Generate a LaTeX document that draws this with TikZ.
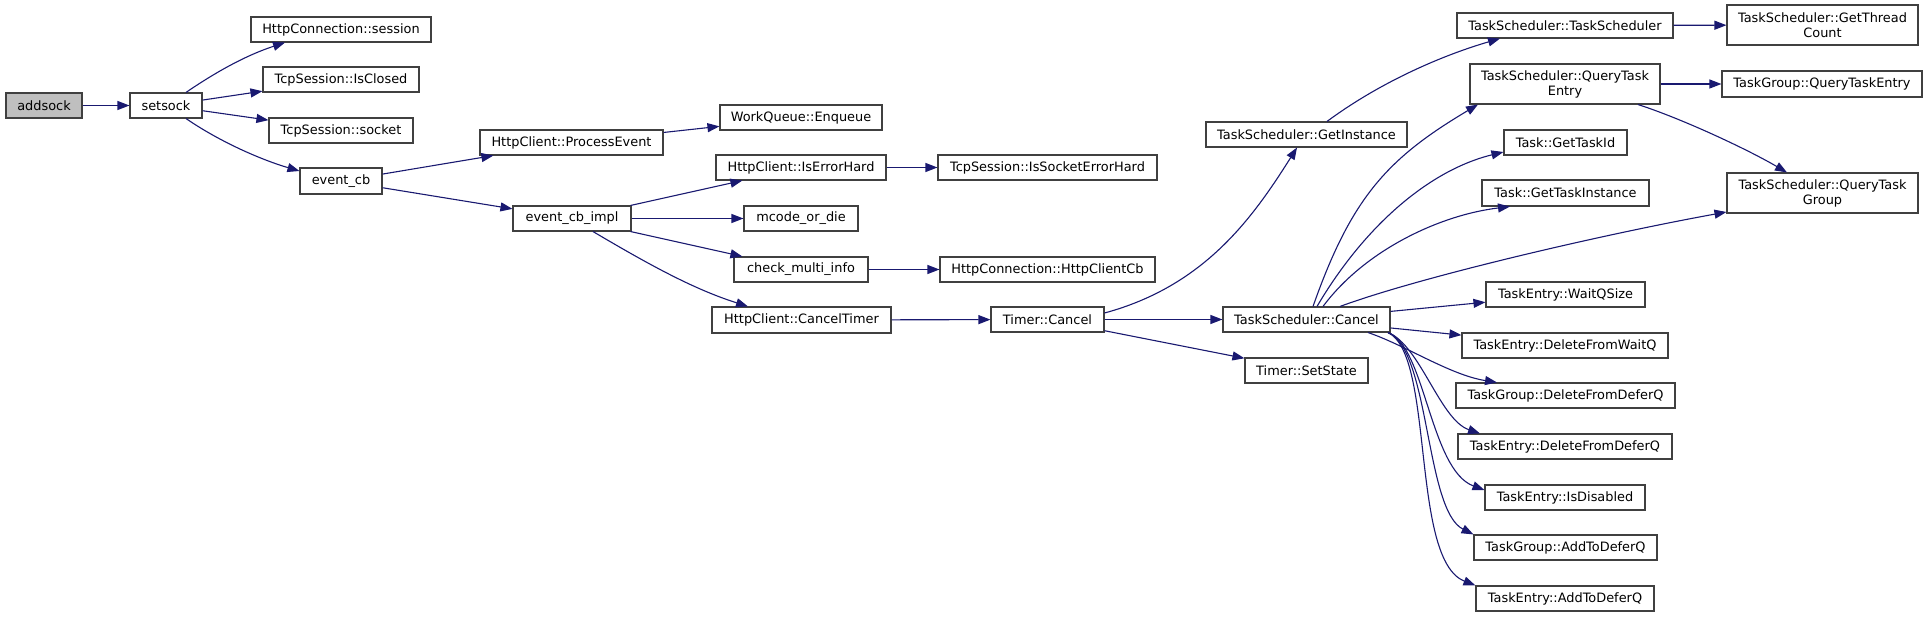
\documentclass[tikz,border=0pt]{standalone}
\usepackage{fontspec}
\setmainfont{DejaVu Sans}
\usetikzlibrary{arrows.meta}
\definecolor{edgeblue}{HTML}{191970}
\definecolor{boxline}{HTML}{404040}
\definecolor{grayfill}{HTML}{BFBFBF}
\newcommand\mybox[7][]{\node[box,#1,minimum width={(#4-#2)*1bp},minimum height={(#5-#3)*1bp}] (#6) at ({(#2+#4)/2},{(#3+#5)/2}) {#7};}
\tikzset{
  box/.style={draw=boxline,line width=1.1bp,fill=white,inner sep=0pt,align=center,
    font=\fontsize{12.9bp}{15bp}\selectfont},
  edge/.style={draw=edgeblue,line width=1.1bp,-{Triangle[length=12bp,width=9bp]}}
}
\begin{document}
\begin{tikzpicture}[x=1bp,y=-1bp]
\useasboundingbox (0,0) rectangle (1928,617);
\mybox[fill=grayfill]{6}{93}{82}{118}{addsock}{addsock}
\mybox{130}{93}{202}{118}{setsock}{setsock}
\mybox{251}{17}{431}{42}{sess}{HttpConnection::session}
\mybox{263}{67}{419}{92}{closed}{TcpSession::IsClosed}
\mybox{269}{118}{413}{143}{socket}{TcpSession::socket}
\mybox{300}{168}{382}{194}{ecb}{event\_cb}
\mybox{480}{130}{663}{155}{pe}{HttpClient::ProcessEvent}
\mybox{720}{105}{882}{130}{enq}{WorkQueue::Enqueue}
\mybox{716}{155}{886}{180}{ieh}{HttpClient::IsErrorHard}
\mybox{513}{206}{631}{231}{ecbi}{event\_cb\_impl}
\mybox{744}{206}{858}{231}{mcode}{mcode\_or\_die}
\mybox{734}{257}{868}{282}{cmi}{check\_multi\_info}
\mybox{712}{307}{891}{333}{ct}{HttpClient::CancelTimer}
\mybox{938}{155}{1157}{180}{iseh}{TcpSession::IsSocketErrorHard}
\mybox{940}{257}{1155}{282}{hcb}{HttpConnection::HttpClientCb}
\mybox{991}{307}{1104}{332}{tc}{Timer::Cancel}
\mybox{1206}{122}{1407}{147}{gi}{TaskScheduler::GetInstance}
\mybox{1223}{307}{1390}{332}{tsc}{TaskScheduler::Cancel}
\mybox{1245}{358}{1368}{383}{ss}{Timer::SetState}
\mybox{1457}{13}{1673}{38}{tsts}{TaskScheduler::TaskScheduler}
\mybox{1727}{5}{1918}{45}{gtc}{TaskScheduler::GetThread\\Count}
\mybox{1470}{64}{1660}{104}{qte}{TaskScheduler::QueryTask\\Entry}
\mybox{1722}{71}{1922}{97}{tgqte}{TaskGroup::QueryTaskEntry}
\mybox{1504}{130}{1627}{155}{gtid}{Task::GetTaskId}
\mybox{1482}{180}{1649}{206}{gti}{Task::GetTaskInstance}
\mybox{1727}{173}{1918}{213}{qtg}{TaskScheduler::QueryTask\\Group}
\mybox{1486}{282}{1645}{307}{wqs}{TaskEntry::WaitQSize}
\mybox{1462}{333}{1668}{358}{dfwq}{TaskEntry::DeleteFromWaitQ}
\mybox{1456}{383}{1675}{408}{tgdfd}{TaskGroup::DeleteFromDeferQ}
\mybox{1458}{434}{1672}{459}{tedfd}{TaskEntry::DeleteFromDeferQ}
\mybox{1485}{485}{1645}{510}{isd}{TaskEntry::IsDisabled}
\mybox{1474}{535}{1657}{560}{tgadd}{TaskGroup::AddToDeferQ}
\mybox{1476}{586}{1654}{611}{teadd}{TaskEntry::AddToDeferQ}

\draw[edge] (addsock) -- (setsock);
\draw[edge] (setsock.north -| 186,0) .. controls (221,68.5) and (250,54) .. (sess.south -| 285,0);
\draw[edge] (setsock) -- (closed);
\draw[edge] (setsock) -- (socket);
\draw[edge] (setsock.south -| 186,0) .. controls (221,142.5) and (262,160) .. (ecb.west |- 0,171);
\draw[edge] (ecb) -- (pe);
\draw[edge] (ecb) -- (ecbi);
\draw[edge] (pe) -- (enq);
\draw[edge] (ecbi) -- (ieh);
\draw[edge] (ecbi) -- (mcode);
\draw[edge] (ecbi) -- (cmi);
\draw[edge] (ecbi.south -| 593,0) .. controls (648,264) and (693,289) .. (ct.north -| 748,0);
\draw[edge] (ieh) -- (iseh);
\draw[edge] (cmi) -- (hcb);
\draw[edge] (ct) -- (tc);
\draw[edge] (tc.east |- 0,313) .. controls (1204,286) and (1252,219) .. (gi.south -| 1297,0);
\draw[edge] (tc) -- (tsc);
\draw[edge] (tc) -- (ss);
\draw[edge] (gi.north -| 1327,0) .. controls (1382,80.75) and (1445,54.5) .. (tsts.south -| 1500,0);
\draw[edge] (tsts) -- (gtc);
\draw[edge] (tsc.north -| 1313,0) .. controls (1351.5,197) and (1388,158) .. (qte.south -| 1478,0);
\draw[edge] (tsc.north -| 1317,0) .. controls (1365,225) and (1430,170) .. (gtid.west |- 0,152);
\draw[edge] (tsc.north -| 1323,0) .. controls (1365,250) and (1440,215) .. (gti.south -| 1510,0);
\draw[edge] (tsc.north -| 1340,0) .. controls (1420,277) and (1600,235) .. (qtg.west |- 0,212);
\draw[edge] (tsc) -- (wqs);
\draw[edge] (tsc) -- (dfwq);
\draw[edge] (tsc.south -| 1368,0) .. controls (1405,345) and (1450,375) .. (tgdfd.north -| 1497,0);
\draw[edge] (tsc.south -| 1388,0) .. controls (1420,345) and (1440,420) .. (tedfd.north -| 1480,0);
\draw[edge] (tsc.south -| 1388,0) .. controls (1425,345) and (1430,470) .. (isd.west |- 0,490);
\draw[edge] (tsc.south -| 1388,0) .. controls (1430,350) and (1425,510) .. (tgadd.north west);
\draw[edge] (tsc.south -| 1388,0) .. controls (1435,355) and (1410,560) .. (teadd.north west);
\draw[edge] (qte) -- (tgqte);
\draw[edge] (qte.south -| 1638,0) .. controls (1680,118) and (1745,148) .. (qtg.north -| 1787,0);
\end{tikzpicture}
\end{document}
